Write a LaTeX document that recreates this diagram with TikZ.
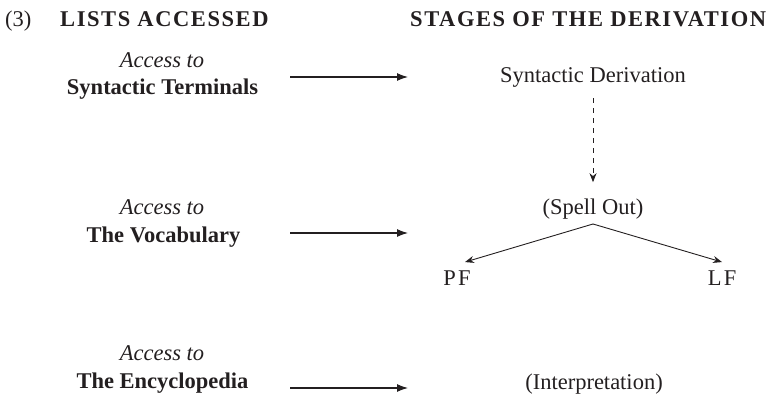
\documentclass[tikz,border=0pt]{standalone}
\usepackage{fontspec}
\setmainfont{Liberation Serif}
\newfontfamily\headfont[LetterSpace=7]{Liberation Serif}
\newfontfamily\spacedfont[LetterSpace=10]{Liberation Serif}
\usetikzlibrary{arrows.meta}
\definecolor{ink}{HTML}{231F20}

\begin{document}
\begin{tikzpicture}[x=1pt,y=-1pt,
  every node/.style={inner sep=0pt, text=ink},
  txt/.style={anchor=base, font=\fontsize{22.5}{27}\selectfont},
  access/.style={anchor=base, font=\fontsize{22.5}{27}\selectfont\itshape},
  listname/.style={anchor=base, font=\fontsize{22.5}{27}\selectfont\bfseries},
  heading/.style={anchor=base west, font=\fontsize{22.5}{27}\headfont\bfseries},
  iface/.style={anchor=base, font=\fontsize{22.5}{27}\spacedfont},
  feed/.style={draw=ink, line width=1.1pt, -{Latex[length=11pt,width=8pt]}},
  branch/.style={draw=ink, line width=0.9pt, -{Stealth[length=9pt,width=7pt]}},
  cycle/.style={draw=ink, line width=0.9pt, dash pattern=on 5pt off 5pt, -{Stealth[length=9pt,width=7pt]}}]

  \useasboundingbox (0,0) rectangle (781,398);

  % column headings
  \node[txt, anchor=base west] (num) at (5,27) {(3)};
  \node[heading] (hlists) at (60,27) {LISTS ACCESSED};
  \node[heading] (hstages) at (410,27) {STAGES OF THE DERIVATION};

  % lists accessed
  \node[access] (acc1) at (162,68) {Access to};
  \node[listname] (terminals) at (162.5,95) {Syntactic Terminals};
  \node[access] (acc2) at (162,214) {Access to};
  \node[listname] (vocab) at (163.5,242) {The Vocabulary};
  \node[access] (acc3) at (162,360) {Access to};
  \node[listname] (encyc) at (162.5,388) {The Encyclopedia};

  % stages of the derivation
  \node[txt] (synder) at (593,83) {Syntactic Derivation};
  \node[txt] (spell) at (593,214) {(Spell Out)};
  \node[iface] (pf) at (457,285) {PF};
  \node[iface] (lf) at (722,285) {LF};
  \node[txt] (interp) at (594,389) {(Interpretation)};

  % access arrows
  \coordinate (f1s) at (290,77);  \coordinate (f1e) at (408,77);
  \coordinate (f2s) at (290,233); \coordinate (f2e) at (408,233);
  \coordinate (f3s) at (290,388); \coordinate (f3e) at (408,388);
  \draw[feed] (f1s) -- (f1e);
  \draw[feed] (f2s) -- (f2e);
  \draw[feed] (f3s) -- (f3e);

  % derivation steps
  \draw[cycle, shorten <=10pt, shorten >=16pt] (synder.south) -- (spell.north);
  \coordinate (apex) at ([yshift=-5pt]spell.south);
  \draw[branch] (apex) -- ([xshift=8pt,yshift=8pt]pf.north);
  \draw[branch] (apex) -- ([yshift=8pt]lf.north);
\end{tikzpicture}
\end{document}
